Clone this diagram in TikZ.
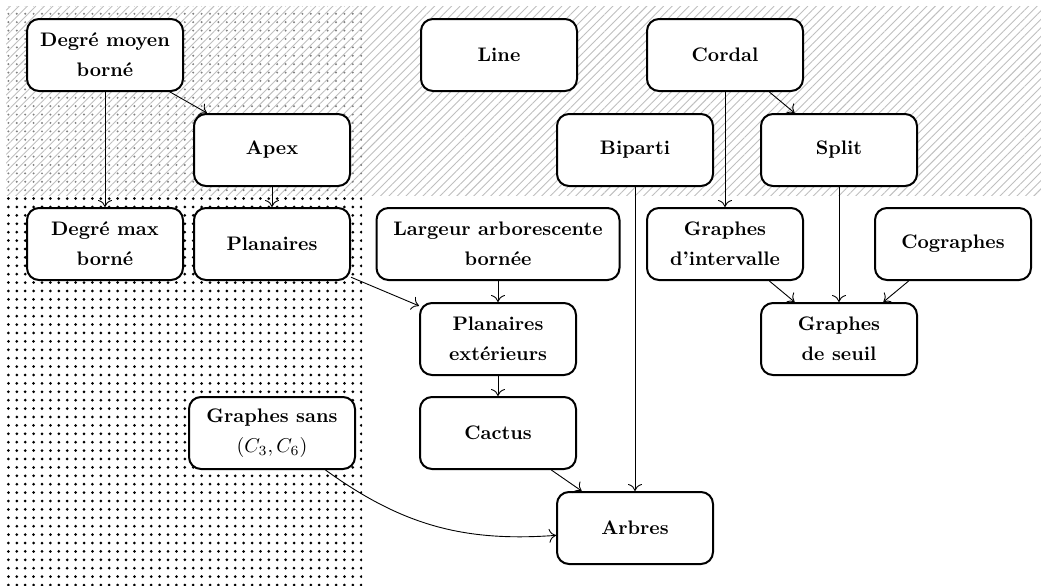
\documentclass[tikz,border=0pt]{standalone}
\usetikzlibrary{patterns.meta,arrows.meta}
\begin{document}
\begin{tikzpicture}[x=0.5pt,y=-0.5pt,
  box/.style={draw, line width=1pt, rounded corners=6pt, fill=white, minimum width=78pt, minimum height=36pt, align=center, font=\fontsize{9.8pt}{15pt}\selectfont\bfseries, inner sep=3pt},
  arr/.style={-{To[length=3.5pt,width=7pt]}, line width=0.45pt}]
\useasboundingbox (0,0) rectangle (1041,585);
\fill[pattern={Lines[angle=45,distance=3pt,line width=0.45pt]}, pattern color=gray!50] (6,6) rectangle (1041,195);
\fill[pattern={Dots[distance=4.2pt,radius=0.55pt]}, pattern color=gray] (6,6) rectangle (362,195);
\fill[pattern={Dots[distance=4.2pt,radius=0.75pt]}, pattern color=black] (6,195) rectangle (362,585);

\node[box] (dmb) at (105,55) {Degré moyen\\borné};
\node[box] (apex) at (272,150) {Apex};
\node[box] (dmax) at (105,244) {Degré max\\borné};
\node[box] (plan) at (272,244) {Planaires};
\node[box] (line) at (499,55) {Line};
\node[box] (cordal) at (725,55) {Cordal};
\node[box] (bip) at (635,150) {Biparti};
\node[box] (split) at (839,150) {Split};
\node[box, minimum width=121.5pt] (larg) at (498,244) {Largeur arborescente\\bornée};
\node[box] (gint) at (725,244) {Graphes\\d'intervalle};
\node[box] (cog) at (953,244) {Cographes};
\node[box] (pext) at (498,339) {Planaires\\extérieurs};
\node[box] (seuil) at (839,339) {Graphes\\de seuil};
\node[box] (cactus) at (498,433) {Cactus};
\node[box, minimum width=83pt] (sans) at (272,433) {Graphes sans\\\mdseries$(C_3,C_6)$};
\node[box] (arbres) at (635,528) {Arbres};

\draw[arr] (dmb) -- (apex);
\draw[arr] (dmb) -- (dmax);
\draw[arr] (apex) -- (plan);
\draw[arr] (plan) -- (pext);
\draw[arr] (larg) -- (pext);
\draw[arr] (pext) -- (cactus);
\draw[arr] (cactus) -- (arbres);
\draw[arr] (bip) -- (arbres);
\draw[arr] (sans) to[bend right=20] (arbres);
\draw[arr] (cordal) -- (split);
\draw[arr] (cordal) -- (gint);
\draw[arr] (split) -- (seuil);
\draw[arr] (gint) -- (seuil);
\draw[arr] (cog) -- (seuil);
\end{tikzpicture}
\end{document}
